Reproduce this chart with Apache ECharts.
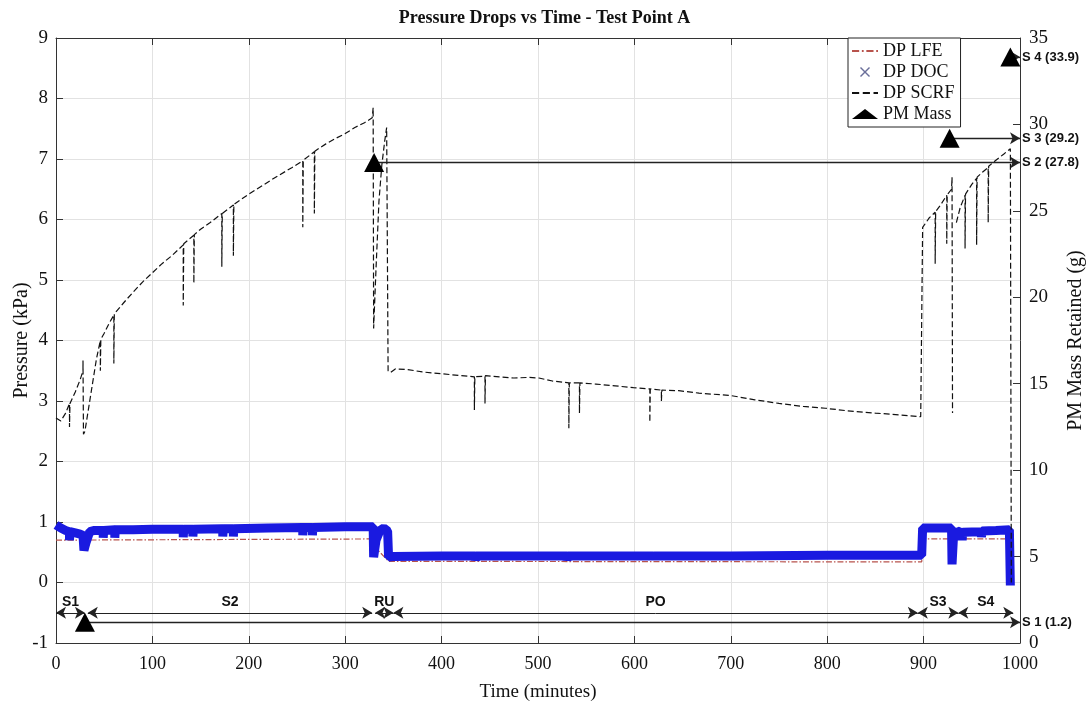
<!DOCTYPE html>
<html>
<head>
<meta charset="utf-8">
<script src="https://cdn.jsdelivr.net/npm/echarts@6/dist/echarts.min.js"></script>
<style>
html,body{margin:0;padding:0;background:#fff;}
#chart{width:1089px;height:709px;}
</style>
</head>
<body>
<div id="chart"></div>
<script>
// ---- data ----
const scrfTime = [0,5,10,14,14,14.5,20,25,28,28,28.5,30,34,38,42,46,46,46.5,50,55,60,60,60.5,70,80,90,100,110,120,132,132,132.5,143,143,143.5,150,160,172,172,172.5,184,184,184.5,200,215,230,245,256,256,256.5,268,268,268.5,280,290,300,310,320,328,329,329.5,332,335,338,341,343,344.5,347,352,365,380,400,420,434,434,434.5,445,445,445.5,460,475,490,501,515,532,532,532.5,543,543,543.5,560,580,599,616,616,616.5,628,628,628.5,646,667,700,725,750,775,798,820,850,875,897,899,906,912,912,912.5,918,924,924,924.5,929,929.5,930,931,934,938,943,943,943.5,950,955,955,955.5,961,967,967,967.5,975,983,990,991];
const scrfVal  = [2.72,2.67,2.8,2.96,2.57,2.96,3.15,3.35,3.5,3.67,2.45,2.5,2.9,3.3,3.7,4.0,3.5,4.02,4.12,4.28,4.42,3.62,4.44,4.62,4.8,4.97,5.12,5.27,5.4,5.58,4.58,5.6,5.74,4.95,5.75,5.84,5.95,6.1,5.22,6.1,6.24,5.4,6.25,6.42,6.57,6.72,6.86,6.97,5.87,6.98,7.12,6.1,7.13,7.25,7.34,7.42,7.52,7.6,7.68,7.85,4.2,5.2,6.3,6.9,7.3,7.52,3.5,3.47,3.53,3.52,3.48,3.45,3.42,3.4,2.85,3.4,3.41,2.96,3.42,3.4,3.38,3.39,3.38,3.33,3.3,2.55,3.3,3.3,2.8,3.3,3.28,3.25,3.22,3.2,2.65,3.2,3.18,3.0,3.18,3.17,3.13,3.09,3.02,2.96,2.91,2.88,2.84,2.8,2.77,2.74,5.87,6.03,6.12,5.27,6.13,6.25,6.4,5.6,6.41,6.5,6.7,2.8,null,5.95,6.2,6.4,5.52,6.42,6.58,6.68,5.58,6.7,6.78,6.86,5.95,6.88,6.98,7.08,7.17,0.0];

const docTime = [0,5,10,14,14,14.5,20,25,28,29,31,35,40,49,49,49.5,61,61,61.5,80,100,132,132,132.5,142,142,142.5,173,173,173.5,184,184,184.5,220,256,256,256.5,266,266,266.5,300,329,329.5,332,336,340,344,345,350,400,435,435,435.5,530,530,530.5,620,620,620.5,700,800,898,899,915,929,929.5,931,935,940,940,940.5,960,960,960.5,975,989,990];
const docVal  = [0.95,0.9,0.86,0.84,0.7,0.84,0.82,0.8,0.78,0.53,0.65,0.84,0.86,0.86,0.74,0.86,0.87,0.74,0.87,0.87,0.88,0.88,0.75,0.88,0.88,0.76,0.88,0.89,0.76,0.89,0.89,0.76,0.89,0.9,0.91,0.78,0.91,0.91,0.78,0.91,0.92,0.92,0.42,0.7,0.86,0.9,0.85,0.42,0.43,0.44,0.44,0.36,0.44,0.44,0.36,0.44,0.44,0.37,0.44,0.44,0.45,0.45,0.9,0.9,0.9,0.3,0.75,0.85,0.82,0.7,0.83,0.84,0.75,0.85,0.86,0.87,-0.05];

const lfeTime = [0,328,330,345,898,900,989,990];
const lfeVal  = [0.7,0.72,0.6,0.35,0.34,0.72,0.72,0.0];

const pmTime  = [30,330,927,990];
const pmMass  = [1.2,27.8,29.2,33.9];
const pmLabel = ['S 1','S 2','S 3','S 4'];

const stageName  = ['S1','S2','RU','PO','S3','S4'];
const stageStart = [0,33,331,350,894,936];
const stageEnd   = [30,328,350,894,936,993];
const stageLevel = -0.5;

// ---- build ----
const pairs = (t, v) => t.map((x, i) => [x, v[i] === null ? '-' : v[i]]);
const serif = 'Liberation Serif';
const sans = 'Liberation Sans';

const pmLines = pmTime.map((t, i) => [
  { coord: [t, pmMass[i]], name: pmLabel[i] + ' (' + pmMass[i] + ')' },
  { coord: [1000, pmMass[i]] }
]);
const stageLines = stageName.map((n, i) => [
  { coord: [stageStart[i], stageLevel], name: n },
  { coord: [stageEnd[i], stageLevel] }
]);

const iconDashDot = 'path://M0,4h8v2h-8z M11,4h2v2h-2z M16,4h8v2h-8z M27,4h2v2h-2z';
const iconDash = 'path://M0,4h8v2h-8z M12,4h8v2h-8z M24,4h5v2h-5z';
const iconX = 'path://M0,1L1,0L5,4L9,0L10,1L6,5L10,9L9,10L5,6L1,10L0,9L4,5Z';

const chart = echarts.init(document.getElementById('chart'), null, { renderer: 'canvas' });
chart.setOption({
  animation: false,
  backgroundColor: '#fff',
  title: {
    text: 'Pressure Drops vs Time - Test Point A',
    left: 'center', top: 4,
    textStyle: { fontFamily: serif, fontSize: 18, fontWeight: 'bold', color: '#111' }
  },
  grid: { left: 56, right: 69, top: 38, bottom: 66, show: false, containLabel: false, outerBoundsMode: 'none' },
  legend: {
    orient: 'vertical', left: 848, top: 38,
    itemGap: 3, itemWidth: 26, itemHeight: 10,
    padding: [4, 6, 4, 4],
    backgroundColor: '#fff', borderColor: '#222', borderWidth: 1, borderRadius: 0,
    textStyle: { fontFamily: serif, fontSize: 18, color: '#111' },
    data: [
      { name: 'DP LFE', icon: iconDashDot, itemStyle: { color: '#b8534c' } },
      { name: 'DP DOC', icon: iconX, itemStyle: { color: '#6a6f9a' } },
      { name: 'DP SCRF', icon: iconDash, itemStyle: { color: '#111' } },
      { name: 'PM Mass', icon: 'triangle', itemStyle: { color: '#000' } }
    ]
  },
  xAxis: [{
    type: 'value', min: 0, max: 1000, interval: 100,
    name: 'Time (minutes)', nameLocation: 'middle', nameGap: 40,
    nameTextStyle: { fontFamily: serif, fontSize: 19, color: '#111' },
    axisLine: { show: true, onZero: false, lineStyle: { color: '#333', width: 1 } },
    axisTick: { show: true, inside: true, length: 7, lineStyle: { color: '#333' } },
    axisLabel: { fontFamily: serif, fontSize: 18, color: '#111', margin: 12, formatter: v => String(v) },
    splitLine: { show: true, lineStyle: { color: '#e2e2e2', width: 1 } }
  }, {
    type: 'value', min: 0, max: 1000, interval: 100, position: 'top',
    axisLine: { show: true, onZero: false, lineStyle: { color: '#333', width: 1 } },
    axisTick: { show: true, inside: true, length: 7, lineStyle: { color: '#333' } },
    axisLabel: { show: false }, splitLine: { show: false }
  }],
  yAxis: [{
    type: 'value', min: -1, max: 9, interval: 1,
    name: 'Pressure (kPa)', nameLocation: 'middle', nameGap: 24, nameMoveOverlap: false,
    nameTextStyle: { fontFamily: serif, fontSize: 20, color: '#111' },
    axisLine: { show: true, onZero: false, lineStyle: { color: '#333', width: 1 } },
    axisTick: { show: true, inside: true, length: 7, lineStyle: { color: '#333' } },
    axisLabel: { fontFamily: serif, fontSize: 19, color: '#111', margin: 8 },
    splitLine: { show: true, lineStyle: { color: '#e2e2e2', width: 1 } }
  }, {
    type: 'value', min: 0, max: 35, interval: 5, position: 'right',
    name: 'PM Mass Retained (g)', nameLocation: 'middle', nameGap: 46,
    nameTextStyle: { fontFamily: serif, fontSize: 20, color: '#111' },
    axisLine: { show: true, onZero: false, lineStyle: { color: '#333', width: 1 } },
    axisTick: { show: true, inside: true, length: 7, lineStyle: { color: '#333' } },
    axisLabel: { fontFamily: serif, fontSize: 19, color: '#111', margin: 9 },
    splitLine: { show: false }
  }],
  series: [
    {
      name: 'DP LFE', type: 'line', yAxisIndex: 0, symbol: 'none',
      data: pairs(lfeTime, lfeVal),
      lineStyle: { color: '#b8534c', width: 1.2, type: [6, 2, 1.5, 2] },
      itemStyle: { color: '#b8534c' },
      z: 2
    },
    {
      name: 'DP DOC', type: 'line', yAxisIndex: 0, symbol: 'none',
      data: pairs(docTime, docVal),
      lineStyle: { color: '#1a1ae0', width: 9 },
      itemStyle: { color: '#1a1ae0' },
      z: 3
    },
    {
      name: 'DP SCRF', type: 'line', yAxisIndex: 0, symbol: 'none', connectNulls: false,
      data: pairs(scrfTime, scrfVal),
      lineStyle: { color: '#111', width: 1.2, type: [6, 3] },
      itemStyle: { color: '#111' },
      z: 4
    },
    {
      name: 'stages', type: 'line', yAxisIndex: 0, data: [],
      markLine: {
        silent: true, symbol: ['arrow', 'arrow'], symbolSize: [9, 10],
        lineStyle: { color: '#222', width: 1, type: 'solid' },
        label: {
          show: true, position: 'insideMiddleTop', distance: 4,
          formatter: p => p.name,
          fontFamily: sans, fontSize: 14, fontWeight: 'bold', color: '#111'
        },
        data: stageLines
      }
    },
    {
      name: 'PM Mass', type: 'scatter', yAxisIndex: 1,
      symbol: 'triangle', symbolSize: [20, 19],
      data: pairs(pmTime, pmMass),
      itemStyle: { color: '#000', opacity: 1 },
      z: 6,
      markLine: {
        silent: true, symbol: ['none', 'arrow'], symbolSize: [9, 10],
        lineStyle: { color: '#222', width: 1.3, type: 'solid' },
        label: {
          show: true, position: 'end', distance: 2,
          formatter: p => p.name,
          fontFamily: sans, fontSize: 13, fontWeight: 'bold', color: '#111'
        },
        data: pmLines
      }
    }
  ]
});
</script>
</body>
</html>
